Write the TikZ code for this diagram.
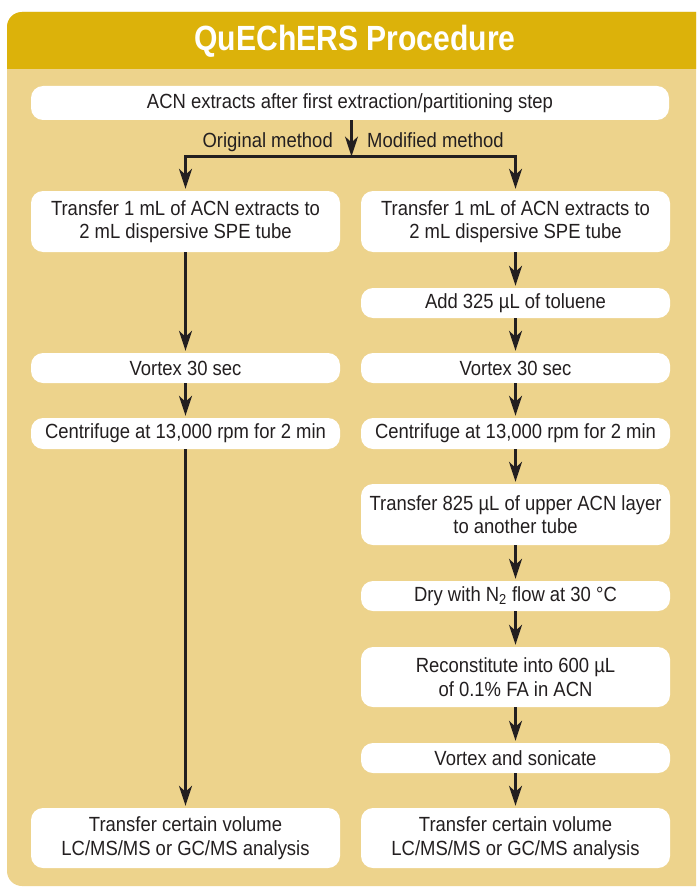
\documentclass[tikz,border=0pt]{standalone}
\usepackage{fontspec}
\setmainfont{Liberation Sans}[FakeStretch=0.9]
\newfontfamily\titlefont{Liberation Sans}[FakeStretch=0.86]
\usetikzlibrary{arrows.meta}
\definecolor{headgold}{RGB}{220,178,10}
\definecolor{panelbody}{RGB}{237,211,140}
\definecolor{ink}{RGB}{35,31,32}

\begin{document}
\begin{tikzpicture}[x=1pt, y=-1pt,
    stepbox/.style={fill=white, rounded corners=12pt, minimum width=309pt, minimum height=30pt,
        inner sep=0pt, align=center, text=ink, font=\fontsize{20.5}{23.5}\selectfont},
    tag/.style={text=ink, inner sep=0pt, font=\fontsize{20.5}{23.5}\selectfont},
    flow/.style={draw=ink, line width=2.6pt, shorten >=2pt,
        -{Stealth[length=20pt, width=13pt, inset=6pt]}}]
    \useasboundingbox (0,0) rectangle (696,888);
    \clip (0,0) rectangle (696,888);
    \fill[white] (0,0) rectangle (696,888);

    % Rahmen und Kopf
    \fill[panelbody, rounded corners=15pt] (7,12) rectangle (720,886);
    \fill[headgold] (7,69) [rounded corners=15pt] |- (720,12) [sharp corners] -- (720,69) -- cycle;
    \node[text=white, font=\titlefont\bfseries\fontsize{35}{40}\selectfont] (title) at (355,41) {QuEChERS Procedure};

    % Start
    \node[stepbox, minimum width=638pt, minimum height=34pt] (start) at (350,103)
        {ACN extracts after first extraction/partitioning step};
    \node[tag, anchor=base east] (orig) at (333,147) {Original method};
    \node[tag, anchor=base west] (modi) at (367,147) {Modified method};
    \coordinate (split) at (351.5,156.5);

    % Original method
    \node[stepbox, minimum height=61pt] (ltransfer) at (185.5,221.5)
        {Transfer 1 mL of ACN extracts to\\2 mL dispersive SPE tube};
    \node[stepbox] (lvortex) at (185.5,368) {Vortex 30 sec};
    \node[stepbox, minimum height=31pt] (lcentri) at (185.5,433.5) {Centrifuge at 13,000 rpm for 2 min};
    \node[stepbox, minimum height=60pt] (lfinal) at (185.5,838)
        {Transfer certain volume\\LC/MS/MS or GC/MS analysis};

    % Modified method
    \node[stepbox, minimum height=61pt] (rtransfer) at (515.5,221.5)
        {Transfer 1 mL of ACN extracts to\\2 mL dispersive SPE tube};
    \node[stepbox] (toluene) at (515.5,303) {Add 325 µL of toluene};
    \node[stepbox] (rvortex) at (515.5,368) {Vortex 30 sec};
    \node[stepbox, minimum height=31pt] (rcentri) at (515.5,433.5) {Centrifuge at 13,000 rpm for 2 min};
    \node[stepbox, minimum height=61pt] (upper) at (515.5,514.5)
        {Transfer 825 µL of upper ACN layer\\to another tube};
    \node[stepbox] (dry) at (515.5,596) {Dry with N\textsubscript{2} flow at 30 °C};
    \node[stepbox, minimum height=60pt] (recon) at (515.5,677)
        {Reconstitute into 600 µL\\of 0.1\% FA in ACN};
    \node[stepbox] (sonic) at (515.5,758) {Vortex and sonicate};
    \node[stepbox, minimum height=60pt] (rfinal) at (515.5,838)
        {Transfer certain volume\\LC/MS/MS or GC/MS analysis};

    % Pfeile
    \draw[flow] (split) -| (ltransfer);
    \draw[flow] (split) -| (rtransfer);
    \draw[flow, shorten >=0pt] (start.south -| split) -- (split);

    \draw[flow] (ltransfer) -- (lvortex);
    \draw[flow] (lvortex) -- (lcentri);
    \draw[flow] (lcentri) -- (lfinal);

    \draw[flow] (rtransfer) -- (toluene);
    \draw[flow] (toluene) -- (rvortex);
    \draw[flow] (rvortex) -- (rcentri);
    \draw[flow] (rcentri) -- (upper);
    \draw[flow] (upper) -- (dry);
    \draw[flow] (dry) -- (recon);
    \draw[flow] (recon) -- (sonic);
    \draw[flow] (sonic) -- (rfinal);
\end{tikzpicture}
\end{document}
